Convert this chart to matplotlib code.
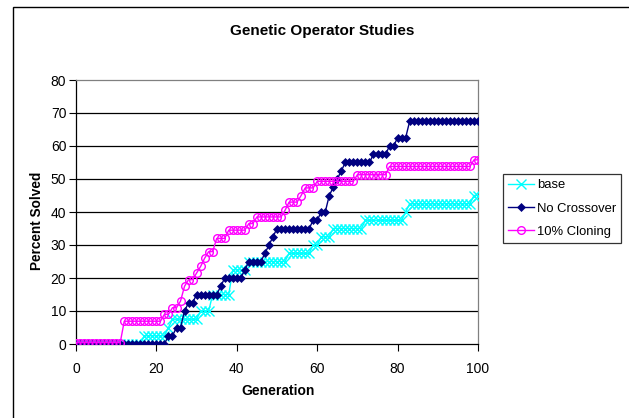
import matplotlib
matplotlib.use("Agg")
import matplotlib.pyplot as plt
from matplotlib.patches import Rectangle
import numpy as np

plt.rcParams['font.family'] = ['Liberation Sans', 'DejaVu Sans']

generations = list(range(0, 101))

base = ([0.0] * 17 + [2.5] * 6 + [5.0] * 1 + [7.5] * 7 + [10.0] * 3 + [15.0] * 5 +
        [22.5] * 4 + [25.0] * 10 + [27.5] * 6 + [30.0] * 2 + [32.5] * 3 + [35.0] * 8 +
        [37.5] * 10 + [40.0] * 1 + [42.5] * 16 + [45.0] * 2)

no_crossover = ([0.0] * 23 + [2.5] * 2 + [5.0] * 2 + [10.0] * 1 + [12.5] * 2 + [15.0] * 6 +
                [17.5] * 1 + [20.0] * 5 + [22.5] * 1 + [25.0] * 4 + [27.5] * 1 + [30.0] * 1 +
                [32.5] * 1 + [35.0] * 9 + [37.5] * 2 + [40.0] * 2 + [45.0] * 1 + [47.5] * 1 +
                [50.0] * 1 + [52.5] * 1 + [55.0] * 7 + [57.5] * 4 + [60.0] * 2 + [62.5] * 3 +
                [67.5] * 18)

cloning = ([0.4] * 12 + [6.9] * 10 + [9.0] * 2 + [11.0] * 2 + [13.0] * 1 + [17.5] * 1 +
           [19.5] * 2 + [21.5] * 1 + [23.5] * 1 + [26.0] * 1 + [28.0] * 2 + [32.0] * 3 +
           [34.5] * 5 + [36.5] * 2 + [38.5] * 7 + [40.5] * 1 + [43.0] * 3 + [45.0] * 1 +
           [47.3] * 3 + [49.3] * 10 + [51.3] * 8 + [53.8] * 21 + [55.8] * 2)

series_names = ["base", "No Crossover", "10% Cloning"]
x_ticks = [0, 20, 40, 60, 80, 100]
y_ticks = [0, 10, 20, 30, 40, 50, 60, 70, 80]

W, H = 629, 418
fig = plt.figure(figsize=(W / 100, H / 100), dpi=100)
fig.patch.set_facecolor('white')

ax = fig.add_axes([76 / W, 1 - 344 / H, (478 - 76) / W, (344 - 80) / H])

for yv in y_ticks[1:-1]:
    ax.axhline(yv, color='black', lw=0.9, zorder=1)

ax.plot(generations, base, color='#00FFFF', lw=1.0, marker='x', markersize=6.5,
        markeredgewidth=1.0, label=series_names[0], zorder=3)
ax.plot(generations, no_crossover, color='#000080', lw=1.0, marker='D', markersize=4.5,
        markeredgewidth=0.5, label=series_names[1], zorder=4)
ax.plot(generations, cloning, color='#FF00FF', lw=1.0, marker='o', markersize=5.5,
        markerfacecolor='none', markeredgewidth=1.0, label=series_names[2], zorder=5)

ax.set_xlim(0, 100)
ax.set_ylim(0, 80)
ax.set_xticks(x_ticks)
ax.set_yticks(y_ticks)
ax.tick_params(direction='out', length=5, width=0.8, labelsize=10, colors='black')
ax.tick_params(axis='x', pad=8)
ax.tick_params(axis='y', pad=2)
ax.spines['left'].set_color('black')
ax.spines['bottom'].set_color('black')
ax.spines['top'].set_color('#808080')
ax.spines['right'].set_color('#808080')
for s in ax.spines.values():
    s.set_linewidth(0.9)

fig.text(322 / W, 1 - 31 / H, "Genetic Operator Studies", ha='center', va='center',
         fontsize=11, fontweight='bold')
fig.text(37 / W, 1 - 221 / H, "Percent Solved", ha='center', va='center',
         rotation=90, fontsize=9.8, fontweight='bold')
fig.text(278 / W, 1 - 391 / H, "Generation", ha='center', va='center',
         fontsize=10, fontweight='bold')

leg = fig.legend(loc='upper left', bbox_to_anchor=(503 / W, 1 - 174 / H),
                 frameon=True, fancybox=False, fontsize=9.4, handlelength=2.0,
                 borderpad=0.4, labelspacing=0.85, handletextpad=0.2, borderaxespad=0)
leg.get_frame().set_edgecolor('black')
leg.get_frame().set_linewidth(0.9)

border = Rectangle((13 / W, -0.1), 1.2, 1 - 7 / H + 0.1, transform=fig.transFigure,
                   fill=False, edgecolor='black', lw=1.0, clip_on=False)
fig.patches.append(border)

fig.savefig('out.png', dpi=100)
